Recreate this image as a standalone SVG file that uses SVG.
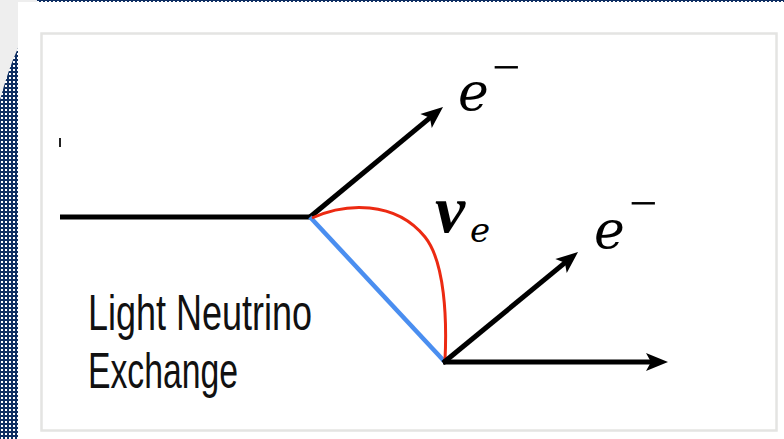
<svg xmlns="http://www.w3.org/2000/svg" width="784" height="439" viewBox="0 0 784 439">
  <defs>
    <pattern id="dots" width="4" height="4" patternUnits="userSpaceOnUse">
      <rect width="4" height="4" fill="#0f2f62"/>
      <rect x="1" y="1" width="2" height="2" fill="#ffffff"/>
    </pattern>
    <marker id="arrow" markerUnits="userSpaceOnUse" markerWidth="30" markerHeight="24" viewBox="0 -12 26 24" refX="12" refY="0" orient="auto">
      <path d="M0,-9 L22,0 L0,9 L5,0 z" fill="#000"/>
    </marker>
    <style>
      .line { stroke: #000; stroke-width: 5; fill: none; }
      .arr { stroke: #000; stroke-width: 5; fill: none; marker-end: url(#arrow); }
      .lbl { font-family: "Liberation Sans", Arial, sans-serif; font-size: 50px; fill: #111; }
      .math { font-family: "DejaVu Serif", "Liberation Serif", serif; font-style: italic; fill: #000; }
      .nu { font-family: "Liberation Serif", serif; font-style: italic; font-weight: bold; font-size: 68px; fill: #000; }
      .minus { font-family: "Liberation Serif", serif; font-style: normal; font-size: 50px; }
    </style>
  </defs>

  <!-- background -->
  <rect x="0" y="0" width="784" height="439" fill="#eeeeee"/>
  <rect x="37" y="0" width="747" height="3" fill="url(#dots)"/>
  <path d="M0,100 Q8,70 18,48 L18,439 L0,439 Z" fill="url(#dots)"/>
  <rect x="18" y="2" width="766" height="437" fill="#ffffff"/>
  <rect x="41.5" y="33.5" width="735" height="397" fill="#ffffff" stroke="#e4e4e2" stroke-width="2.5"/>

  <!-- small mark -->
  <line x1="60" y1="138" x2="60" y2="147" stroke="#222" stroke-width="2"/>

  <g id="connectors">
    <line class="line" x1="60" y1="217" x2="311" y2="217"/>
    <line class="arr" x1="310" y1="217" x2="435.3" y2="113.4"/>
    <line x1="310" y1="217" x2="445" y2="362" stroke="#4a8ef0" stroke-width="4.5"/>
    <path d="M312,218 C345,203 395,200 425,237 C445,262 447,320 445,360" fill="none" stroke="#ec2a12" stroke-width="3"/>
    <line class="arr" x1="443" y1="363" x2="570.3" y2="258.4"/>
    <line class="arr" x1="443" y1="362" x2="658" y2="362"/>
  </g>

  <g id="electron1">
    <text class="math" x="458" y="110" font-size="52">e<tspan class="minus" x="492" y="84">−</tspan></text>
  </g>
  <g id="electron2">
    <text class="math" x="594" y="248" font-size="52">e<tspan class="minus" x="629" y="220">−</tspan></text>
  </g>
  <g id="neutrino">
    <text class="nu" x="435" y="232">ν</text>
    <text class="math" x="470" y="242" font-size="34">e</text>
  </g>

  <g id="label">
    <text class="lbl" x="88" y="330" textLength="224" lengthAdjust="spacingAndGlyphs">Light Neutrino</text>
    <text class="lbl" x="88" y="388" textLength="150" lengthAdjust="spacingAndGlyphs">Exchange</text>
  </g>
</svg>
